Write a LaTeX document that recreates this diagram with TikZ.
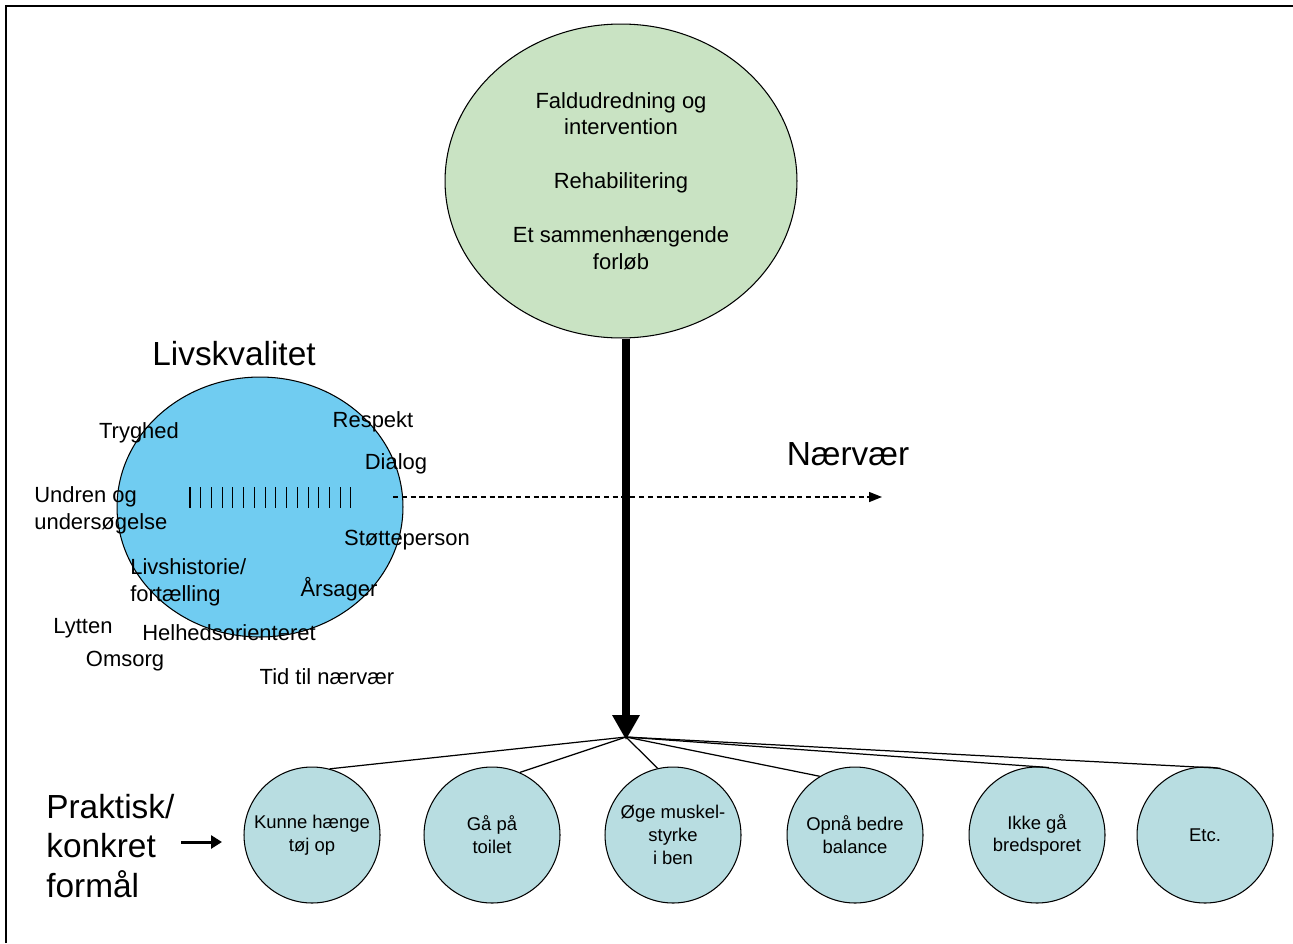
\documentclass[tikz,border=0pt]{standalone}
\usepackage{fontspec}
\setmainfont{Liberation Sans}
\usetikzlibrary{shapes.geometric,arrows.meta}
\definecolor{goalgreen}{HTML}{C9E3C3}
\definecolor{lifeblue}{HTML}{70CCF1}
\definecolor{aimcyan}{HTML}{B8DDE1}
\newcommand{\fbig}{\fontsize{19}{22.7}\selectfont}
\newcommand{\fmid}{\fontsize{12.5}{15.3}\selectfont}
\newcommand{\fsml}{\fontsize{10.5}{13}\selectfont}
\tikzset{
  blob/.style={ellipse, draw=black, line width=0.6pt, inner sep=0pt},
  aim/.style={blob, fill=aimcyan, minimum width=2.72cm, minimum height=2.72cm,
              label={[font=\fsml, align=center, inner sep=0pt]center:#1}},
  word/.style={font=\fmid, inner sep=0pt},
  wordl/.style={word, align=left},
  big/.style={font=\fbig, inner sep=0pt, align=left},
  spoke/.style={draw=black, line width=0.7pt},
  tick/.style={draw=black, line width=0.6pt},
}
\begin{document}
\begin{tikzpicture}[x=0.02cm, y=-0.02cm]
  \useasboundingbox (0,0) rectangle (1293,943);
  \draw[line width=1.2pt] (6,943) -- (6,6) -- (1293,6);

  % top goal
  \node[blob, fill=goalgreen, minimum width=7.04cm, minimum height=6.28cm,
        font=\fmid, align=center] (goal) at (621,181)
    {Faldudredning og\\intervention\\[15.3pt]Rehabilitering\\[15.3pt]Et sammenhængende\\forløb};

  % quality of life
  \node[blob, fill=lifeblue, minimum width=5.72cm, minimum height=5.2cm] (life) at (260,507) {};
  \node[big] (livs) at (234,354) {Livskvalitet};
  \foreach \i in {0,...,15}
    \draw[tick] ({190+\i*10.73},487) -- ++(0,21);

  \node[word] (tryg) at (139,433) {Tryghed};
  \node[word] (resp) at (373,422) {Respekt};
  \node[word] (dial) at (396,464) {Dialog};
  \node[wordl, anchor=west] (undr) at (34,510) {Undren og\\undersøgelse};
  \node[word] (stot) at (407,540) {Støtteperson};
  \node[wordl, anchor=west] (hist) at (130,582) {Livshistorie/\\fortælling};
  \node[word] (aars) at (339,589) {Årsager};
  \node[word] (lytt) at (83,628) {Lytten};
  \node[word] (helh) at (229,633) {Helhedsorienteret};
  \node[word] (omso) at (125,661) {Omsorg};
  \node[word] (tidn) at (327,677) {Tid til nærvær};

  % presence
  \node[big] (naer) at (848,454) {Nærvær};
  \coordinate (nv1) at (393,497);
  \coordinate (nv2) at (882,497);
  \draw[line width=0.8pt, dash pattern=on 3pt off 2pt,
        -{Triangle[width=0.2cm,length=0.26cm]}] (nv1) -- (nv2);

  % practical aims
  \node[aim={Kunne hænge\\tøj op}] (k1) at (312,835) {};
  \node[aim={Gå på\\toilet}] (k2) at (492,835) {};
  \node[aim={Øge muskel-\\styrke\\i ben}] (k3) at (673,835) {};
  \node[aim={Opnå bedre\\balance}] (k4) at (855,835) {};
  \node[aim={Ikke gå\\bredsporet}] (k5) at (1037,835) {};
  \node[aim={Etc.}] (k6) at (1205,835) {};

  \coordinate (hub) at (626,740);
  \foreach \n/\a in {k1/75, k2/66, k3/103, k4/121, k5/80, k6/77}
    \draw[spoke] ([yshift=0.06cm]hub) -- (\n.\a);
  \draw[line width=5pt, -{Triangle[width=0.52cm,length=0.5cm]}] (goal.south -| hub) -- (hub);

  \node[big, anchor=west] (prak) at (46,846) {Praktisk/\\konkret\\formål};
  \coordinate (pa1) at (181,842);
  \coordinate (pa2) at (222,842);
  \draw[line width=1.7pt, -{Triangle[width=0.26cm,length=0.22cm]}] (pa1) -- (pa2);
\end{tikzpicture}
\end{document}
